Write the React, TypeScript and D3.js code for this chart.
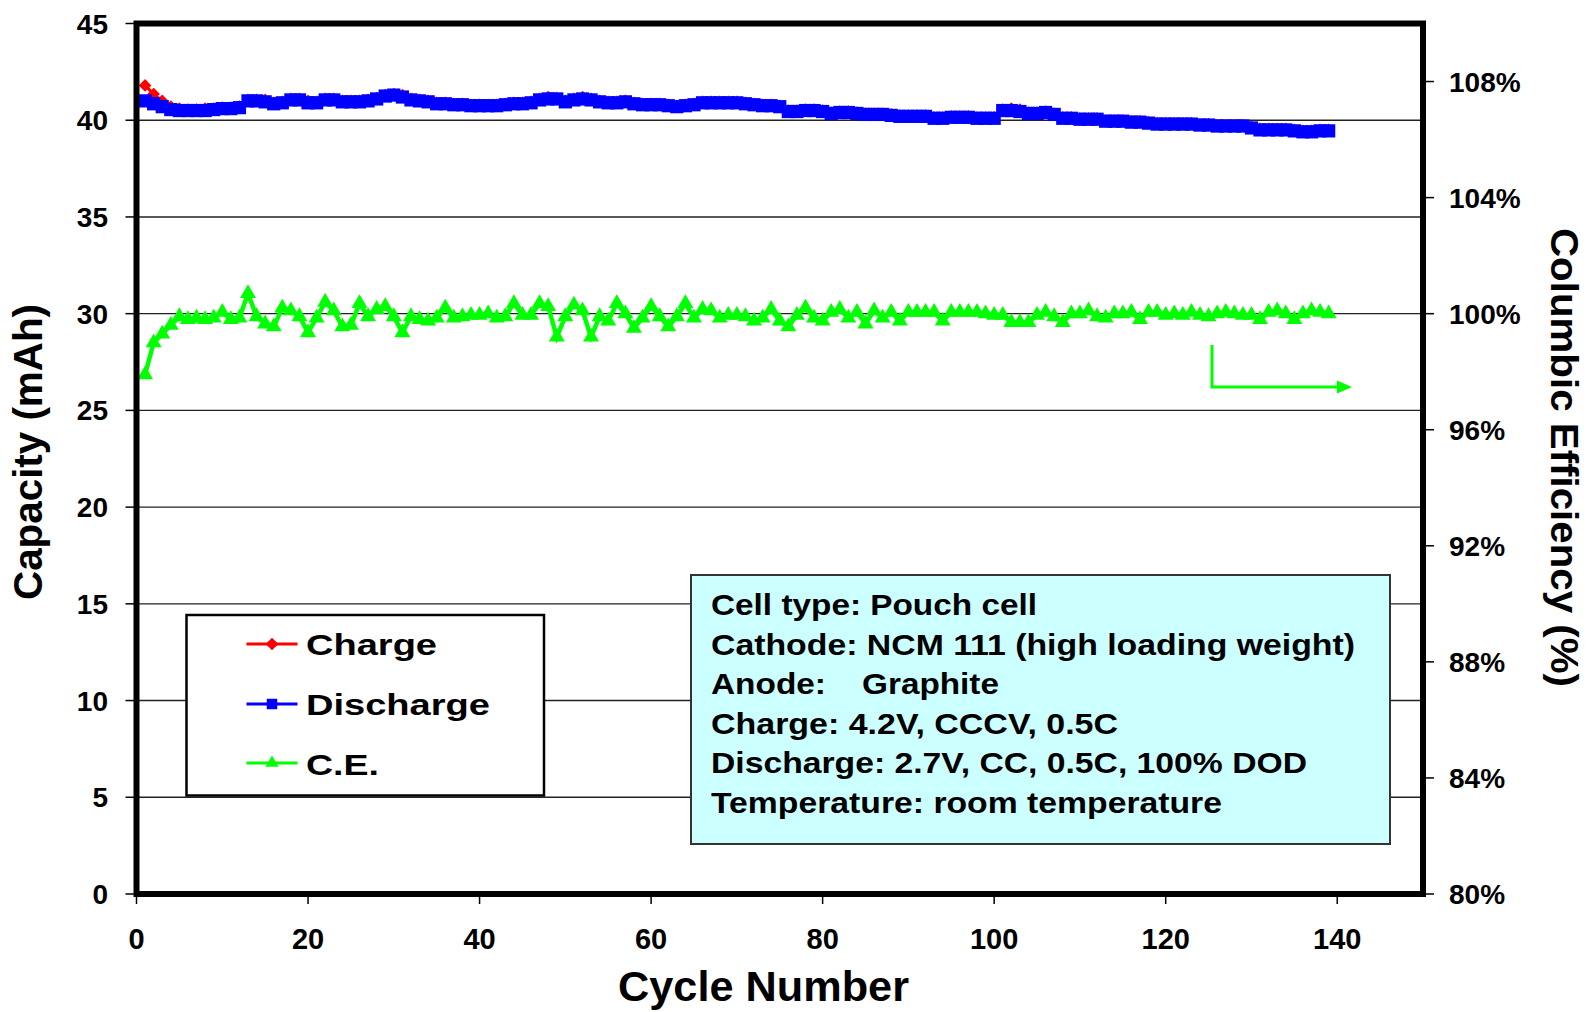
import React from "react";
import * as d3 from "d3";

// ---------- DATA ----------
const cycles: number[] = Array.from({ length: 139 }, (_, i) => i + 1);

const chargeCapacity: number[] = [
  41.8, 41.35, 41.0, 40.7, 40.6, 40.55, 40.55, 40.6, 40.6, 40.65,
  40.65, 40.7, 41.05, 41.05, 41.05, 40.9, 40.95, 41.1, 41.1, 41.0,
  40.95, 41.1, 41.1, 41.0, 41.0, 41.0, 41.05, 41.15, 41.3, 41.35,
  41.3, 41.1, 41.05, 41.0, 40.9, 40.9, 40.85, 40.85, 40.8, 40.8,
  40.8, 40.8, 40.85, 40.9, 40.9, 40.95, 41.1, 41.2, 41.15, 41.0,
  41.1, 41.2, 41.1, 41.0, 40.95, 40.95, 41.0, 40.9, 40.85, 40.85,
  40.85, 40.8, 40.75, 40.8, 40.85, 40.95, 40.95, 40.95, 40.95, 40.95,
  40.9, 40.85, 40.8, 40.8, 40.75, 40.5, 40.5, 40.55, 40.55, 40.5,
  40.4, 40.45, 40.45, 40.4, 40.35, 40.35, 40.35, 40.3, 40.25, 40.25,
  40.25, 40.25, 40.15, 40.15, 40.2, 40.2, 40.2, 40.15, 40.15, 40.15,
  40.55, 40.6, 40.55, 40.4, 40.4, 40.45, 40.35, 40.15, 40.15, 40.1,
  40.1, 40.1, 40.0, 40.0, 40.0, 39.95, 39.95, 39.9, 39.85, 39.85,
  39.85, 39.85, 39.85, 39.8, 39.8, 39.75, 39.75, 39.75, 39.75, 39.65,
  39.55, 39.55, 39.55, 39.55, 39.5, 39.45, 39.45, 39.5, 39.5,
];

const dischargeCapacity: number[] = [
  41.0, 40.85, 40.7, 40.55, 40.5, 40.5, 40.5, 40.5, 40.55, 40.6,
  40.6, 40.65, 41.0, 41.0, 40.95, 40.85, 40.9, 41.05, 41.05, 40.9,
  40.9, 41.05, 41.05, 40.95, 40.95, 40.95, 41.0, 41.1, 41.25, 41.3,
  41.2, 41.05, 41.0, 40.95, 40.85, 40.85, 40.8, 40.8, 40.75, 40.75,
  40.75, 40.75, 40.8, 40.85, 40.85, 40.9, 41.05, 41.1, 41.1, 40.95,
  41.05, 41.1, 41.05, 40.95, 40.9, 40.9, 40.95, 40.85, 40.8, 40.8,
  40.8, 40.75, 40.7, 40.75, 40.8, 40.9, 40.9, 40.9, 40.9, 40.9,
  40.85, 40.8, 40.75, 40.75, 40.7, 40.45, 40.45, 40.5, 40.5, 40.45,
  40.35, 40.4, 40.4, 40.35, 40.3, 40.3, 40.3, 40.25, 40.2, 40.2,
  40.2, 40.2, 40.1, 40.1, 40.15, 40.15, 40.15, 40.1, 40.1, 40.1,
  40.5, 40.5, 40.45, 40.35, 40.35, 40.4, 40.3, 40.1, 40.1, 40.05,
  40.05, 40.05, 39.95, 39.95, 39.95, 39.9, 39.9, 39.85, 39.8, 39.8,
  39.8, 39.8, 39.8, 39.75, 39.75, 39.7, 39.7, 39.7, 39.7, 39.6,
  39.5, 39.5, 39.5, 39.5, 39.45, 39.4, 39.4, 39.45, 39.45,
];

const coulombicEfficiency: number[] = [
  97.9, 99.0, 99.3, 99.6, 99.9, 99.8, 99.85, 99.8, 99.85, 100.05,
  99.8, 99.85, 100.7, 99.9, 99.65, 99.55, 100.2, 100.1, 99.9, 99.35,
  99.85, 100.4, 100.1, 99.55, 99.6, 100.35, 99.9, 100.15, 100.25, 99.9,
  99.35, 99.9, 99.8, 99.75, 99.85, 100.2, 99.85, 99.9, 99.95, 99.95,
  100.0, 99.85, 99.9, 100.35, 99.95, 99.95, 100.35, 100.25, 99.2, 99.9,
  100.3, 100.1, 99.2, 99.9, 99.75, 100.35, 100.0, 99.5, 99.85, 100.25,
  99.9, 99.55, 99.9, 100.35, 99.85, 100.15, 100.1, 99.85, 99.95, 99.95,
  99.9, 99.75, 99.85, 100.15, 99.75, 99.55, 99.95, 100.2, 99.85, 99.75,
  100.05, 100.15, 99.85, 100.05, 99.65, 100.1, 99.85, 100.05, 99.75, 100.05,
  100.05, 100.05, 100.05, 99.75, 100.05, 100.05, 100.05, 100.05, 100.0, 99.95,
  99.95, 99.7, 99.7, 99.7, 99.95, 100.05, 99.9, 99.7, 100.0, 100.0,
  100.1, 99.9, 99.85, 100.0, 100.0, 100.05, 99.8, 100.05, 100.05, 99.95,
  100.0, 99.95, 100.05, 99.95, 99.9, 100.0, 100.05, 100.0, 99.95, 99.95,
  99.8, 100.05, 100.1, 100.0, 99.8, 100.0, 100.1, 100.05, 100.0,
];

const leftTicks: number[] = [0, 5, 10, 15, 20, 25, 30, 35, 40, 45];
const gridValues: number[] = [5, 10, 15, 20, 25, 30, 35, 40];
const rightTicks: number[] = [80, 84, 88, 92, 96, 100, 104, 108];
const xTicks: number[] = [0, 20, 40, 60, 80, 100, 120, 140];

const seriesNames: string[] = ["Charge", "Discharge", "C.E."];
const infoLines: string[] = [
  "Cell type: Pouch cell",
  "Cathode: NCM 111 (high loading weight)",
  "Anode:",
  "Charge: 4.2V, CCCV, 0.5C",
  "Discharge: 2.7V, CC, 0.5C, 100% DOD",
  "Temperature: room temperature",
];
const anodeValue = "Graphite";

const xTitle = "Cycle Number";
const yTitle = "Capacity (mAh)";
const y2Title = "Columbic Efficiency (%)";

// ---------- LAYOUT ----------
const W = 1589;
const H = 1012;
const L = 136.5, R = 1423, T = 23.5, B = 894;
const FONT = "'Liberation Sans', Arial, Helvetica, sans-serif";
const infoWidths = [326, 644, 115, 407, 596, 511];
const legendWidths = [131, 184, 73];

export default function App() {
  const x = d3.scaleLinear().domain([0, 150]).range([L, R]);
  const y = d3.scaleLinear().domain([0, 45]).range([B, T]);
  const y2 = d3.scaleLinear().domain([80, 110]).range([B, T]);

  const lineL = d3.line<number>().x((_, i) => x(cycles[i])).y((d) => y(d));
  const lineR = d3.line<number>().x((_, i) => x(cycles[i])).y((d) => y2(d));

  const sq = d3.symbol().type(d3.symbolSquare).size(175)()!;
  const dia = d3.symbol().type(d3.symbolSquare).size(80)()!;
  const tri = d3.symbol().type(d3.symbolTriangle).size(110)()!;
  const sqLeg = d3.symbol().type(d3.symbolSquare).size(110)()!;
  const triLeg = d3.symbol().type(d3.symbolTriangle).size(75)()!;

  const red = "#FF0000", blue = "#0000FF", green = "#00FF00";

  const legY = [644, 704, 763];
  const legBase = [655, 715, 775];
  const legColors = [red, blue, green];
  const legSyms = [
    <path d={dia} transform="rotate(45)" fill={red} />,
    <path d={sqLeg} fill={blue} />,
    <path d={triLeg} fill={green} />,
  ];

  return (
    <svg
      width={W}
      height={H}
      style={{ position: "absolute", left: 0, top: 0, background: "#fff" }}
      fontFamily={FONT}
      fontWeight="bold"
    >
      <rect x={0} y={0} width={W} height={H} fill="#fff" />

      {/* gridlines */}
      {gridValues.map((v) => (
        <line key={v} x1={L} x2={R} y1={y(v)} y2={y(v)} stroke="#222" strokeWidth={1.4} />
      ))}

      {/* left ticks */}
      {leftTicks.map((v) => (
        <g key={"l" + v}>
          <line x1={L - 11} x2={L} y1={y(v)} y2={y(v)} stroke="#000" strokeWidth={1.5} />
          <text x={108} y={y(v) + 10} textAnchor="end" fontSize={28}>
            {v}
          </text>
        </g>
      ))}

      {/* right ticks */}
      {rightTicks.map((v) => (
        <g key={"r" + v}>
          <line x1={R} x2={R + 11} y1={y2(v)} y2={y2(v)} stroke="#000" strokeWidth={1.5} />
          <text x={1449} y={y2(v) + 10} textAnchor="start" fontSize={28}>
            {v + "%"}
          </text>
        </g>
      ))}

      {/* x ticks */}
      {xTicks.map((v) => (
        <g key={"x" + v}>
          <line x1={x(v)} x2={x(v)} y1={B} y2={B + 10} stroke="#000" strokeWidth={1.5} />
          <text x={x(v)} y={949} textAnchor="middle" fontSize={29}>
            {v}
          </text>
        </g>
      ))}

      {/* Charge series */}
      <path d={lineL(chargeCapacity)!} fill="none" stroke={red} strokeWidth={3} />
      {chargeCapacity.map((v, i) => (
        <path key={"c" + i} d={dia} fill={red} transform={`translate(${x(cycles[i])},${y(v)}) rotate(45)`} />
      ))}

      {/* Discharge series */}
      <path d={lineL(dischargeCapacity)!} fill="none" stroke={blue} strokeWidth={5} />
      {dischargeCapacity.map((v, i) => (
        <path key={"d" + i} d={sq} fill={blue} transform={`translate(${x(cycles[i])},${y(v)})`} />
      ))}

      {/* CE series */}
      <path d={lineR(coulombicEfficiency)!} fill="none" stroke={green} strokeWidth={4.5} />
      {coulombicEfficiency.map((v, i) => (
        <path key={"e" + i} d={tri} fill={green} transform={`translate(${x(cycles[i])},${y2(v)})`} />
      ))}

      {/* arrow pointing to right axis */}
      <polyline points="1212,345 1212,387 1340,387" fill="none" stroke={green} strokeWidth={3} />
      <polygon points="1337,380.5 1352,387 1337,393.5" fill={green} />

      {/* frame */}
      <rect x={L} y={T} width={R - L} height={B - T} fill="none" stroke="#000" strokeWidth={6} />

      {/* legend */}
      <rect x={186.5} y={615} width={357.5} height={180.5} fill="#fff" stroke="#000" strokeWidth={2.5} />
      {seriesNames.map((n, i) => (
        <g key={n}>
          <line x1={246.5} x2={297.5} y1={legY[i]} y2={legY[i]} stroke={legColors[i]} strokeWidth={3} />
          <g transform={`translate(272,${legY[i]})`}>{legSyms[i]}</g>
          <text x={306} y={legBase[i]} fontSize={30} textLength={legendWidths[i]} lengthAdjust="spacingAndGlyphs">
            {n}
          </text>
        </g>
      ))}

      {/* info box */}
      <rect x={691} y={575} width={699} height={269} fill="#CCFFFF" stroke="#333" strokeWidth={2} />
      {infoLines.map((s, i) => (
        <text
          key={i}
          x={711}
          y={615 + i * 39.5}
          fontSize={30}
          textLength={infoWidths[i]}
          lengthAdjust="spacingAndGlyphs"
        >
          {s}
        </text>
      ))}
      <text x={862} y={615 + 2 * 39.5} fontSize={30} textLength={137} lengthAdjust="spacingAndGlyphs">
        {anodeValue}
      </text>

      {/* axis titles */}
      <text x={763.5} y={1001} textAnchor="middle" fontSize={43} textLength={291} lengthAdjust="spacingAndGlyphs">
        {xTitle}
      </text>
      <text
        transform="translate(42,452) rotate(-90)"
        textAnchor="middle"
        fontSize={40}
        textLength={296}
        lengthAdjust="spacingAndGlyphs"
      >
        {yTitle}
      </text>
      <text
        transform="translate(1551,457.5) rotate(90)"
        textAnchor="middle"
        fontSize={39}
        textLength={459}
        lengthAdjust="spacingAndGlyphs"
      >
        {y2Title}
      </text>
    </svg>
  );
}
